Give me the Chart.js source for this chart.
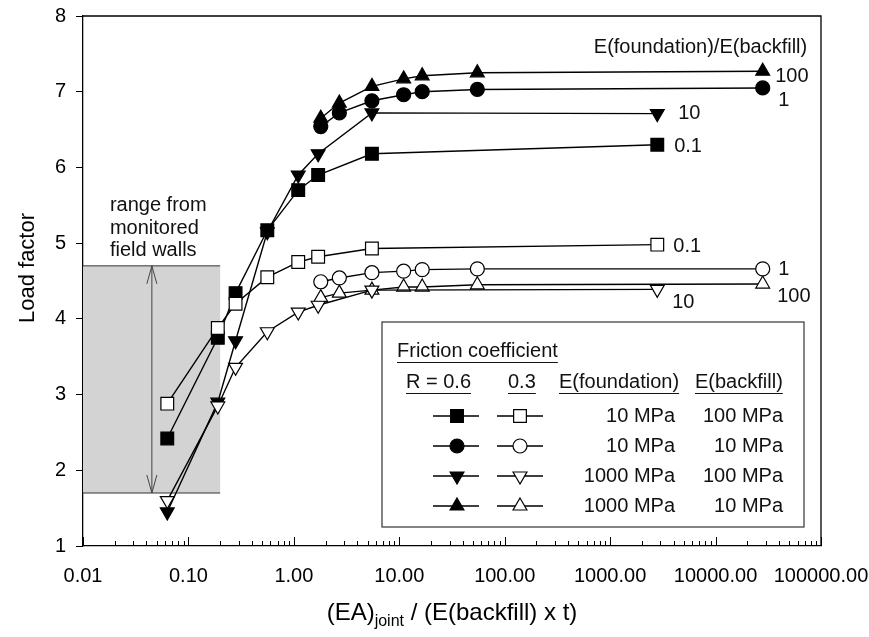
<!DOCTYPE html>
<html>
<head>
<meta charset="utf-8">
<script src="https://cdn.jsdelivr.net/npm/chart.js@4.4.1/dist/chart.umd.min.js"></script>
<style>
  html, body { margin: 0; padding: 0; background: #fff; }
  #wrap { width: 869px; height: 637px; }
</style>
</head>
<body>
<div id="wrap"><canvas id="chart" width="869" height="637"></canvas></div>
<script>
// Load factor vs joint stiffness

const FONT = '"Liberation Sans", Arial, sans-serif';

// x values of the two groups of runs
const xLow = [0.063, 0.19, 0.28, 0.56, 1.1, 1.7, 5.5, 2800];
const xHigh = [1.8, 2.7, 5.5, 11, 16.5, 55, 28000];

// E(foundation)/E(backfill) = 0.1 (squares)
const sqR06 = [2.42, 3.75, 4.34, 5.17, 5.70, 5.90, 6.18, 6.30];
const sqR03 = [2.88, 3.88, 4.20, 4.55, 4.75, 4.82, 4.93, 4.98];
// ratio = 1 (circles)
const circR06 = [6.54, 6.72, 6.88, 6.96, 7.00, 7.03, 7.05];
const circR03 = [4.49, 4.54, 4.61, 4.63, 4.65, 4.66, 4.66];
// ratio = 10 (down triangles)
const downR06 = [1.45, 2.90, 3.71, 5.15, 5.90, 6.18, 6.72, 6.71];
const downR03 = [1.60, 2.85, 3.36, 3.83, 4.09, 4.18, 4.38, 4.39];
// ratio = 100 (up triangles)
const upR06 = [6.65, 6.85, 7.07, 7.17, 7.21, 7.25, 7.27];
const upR03 = [4.28, 4.34, 4.38, 4.42, 4.42, 4.45, 4.46];

const xTickValues = [0.01, 0.1, 1, 10, 100, 1000, 10000, 100000];

// shaded band: range from monitored field walls
const bandX = [0.01, 0.2];
const bandY = [1.7, 4.7];
const arrowX = 0.045;

// ratio labels at the line ends
const endLabelText = ['100', '1', '10', '0.1', '0.1', '1', '10', '100'];
const endLabelX = [36800, 39300, 4420, 4050, 3970, 39300, 3880, 38400];
const endLabelY = [7.20, 6.88, 6.71, 6.28, 4.96, 4.65, 4.21, 4.29];

const legendFoundation = ['10 MPa', '10 MPa', '1000 MPa', '1000 MPa'];
const legendBackfill = ['100 MPa', '10 MPa', '100 MPa', '10 MPa'];

function zip(xs, ys) {
    return ys.map((y, i) => ({ x: xs[i], y: y }));
}

const markers = [
    { style: 'rect', radius: 9, rotation: 0 },
    { style: 'circle', radius: 7, rotation: 0 },
    { style: 'triangle', radius: 8, rotation: 180 },
    { style: 'triangle', radius: 8, rotation: 0 }
];

function series(xs, ys, m, filled) {
    return {
        data: zip(xs, ys),
        borderColor: '#000',
        borderWidth: 1.4,
        backgroundColor: filled ? '#000' : '#fff',
        pointStyle: m.style,
        pointRadius: m.radius,
        pointRotation: m.rotation,
        pointBorderWidth: 1.2,
        pointBorderColor: '#000',
        pointBackgroundColor: filled ? '#000' : '#fff',
        tension: 0,
        fill: false
    };
}

// own marker drawing for the legend box, same geometry as Chart.js
function drawMarker(ctx, m, x, y, filled) {
    const r = m.radius;
    ctx.beginPath();
    if (m.style === 'rect') {
        const s = r * Math.SQRT1_2;
        ctx.rect(x - s, y - s, 2 * s, 2 * s);
    } else if (m.style === 'circle') {
        ctx.arc(x, y, r, 0, Math.PI * 2);
    } else {
        let a = m.rotation * Math.PI / 180;
        ctx.moveTo(x + Math.sin(a) * r, y - Math.cos(a) * r);
        a += Math.PI * 2 / 3;
        ctx.lineTo(x + Math.sin(a) * r, y - Math.cos(a) * r);
        a += Math.PI * 2 / 3;
        ctx.lineTo(x + Math.sin(a) * r, y - Math.cos(a) * r);
        ctx.closePath();
    }
    ctx.fillStyle = filled ? '#000' : '#fff';
    ctx.fill();
    ctx.strokeStyle = '#000';
    ctx.lineWidth = 1.2;
    ctx.stroke();
}

function underlined(ctx, text, x, y, align) {
    ctx.textAlign = align;
    ctx.fillText(text, x, y);
    const w = ctx.measureText(text).width;
    const x0 = align === 'left' ? x : x - w;
    ctx.beginPath();
    ctx.moveTo(x0, y + 11.5);
    ctx.lineTo(x0 + w, y + 11.5);
    ctx.stroke();
}

const extras = {
    id: 'extras',
    beforeDatasetsDraw(chart) {
        const ctx = chart.ctx;
        const xs = chart.scales.x, ys = chart.scales.y;
        const x0 = xs.getPixelForValue(bandX[0]), x1 = xs.getPixelForValue(bandX[1]);
        const yT = ys.getPixelForValue(bandY[1]), yB = ys.getPixelForValue(bandY[0]);
        ctx.save();
        ctx.fillStyle = '#d3d3d3';
        ctx.fillRect(x0, yT, x1 - x0, yB - yT);
        ctx.strokeStyle = '#333';
        ctx.lineWidth = 1;
        ctx.beginPath();
        ctx.moveTo(x0, yT); ctx.lineTo(x1, yT);
        ctx.moveTo(x0, yB); ctx.lineTo(x1, yB);
        ctx.stroke();
        // double headed arrow
        const ax = xs.getPixelForValue(arrowX);
        ctx.strokeStyle = '#444';
        ctx.beginPath();
        ctx.moveTo(ax, yT); ctx.lineTo(ax, yB);
        ctx.moveTo(ax - 5, yT + 18); ctx.lineTo(ax, yT); ctx.lineTo(ax + 5, yT + 18);
        ctx.moveTo(ax - 5, yB - 18); ctx.lineTo(ax, yB); ctx.lineTo(ax + 5, yB - 18);
        ctx.stroke();
        ctx.restore();
    },
    afterDraw(chart) {
        const ctx = chart.ctx;
        const a = chart.chartArea;
        const xs = chart.scales.x, ys = chart.scales.y;
        ctx.save();
        // frame top and right
        ctx.strokeStyle = '#000';
        ctx.lineWidth = 1.3;
        ctx.beginPath();
        ctx.moveTo(a.left, a.top); ctx.lineTo(a.right, a.top); ctx.lineTo(a.right, a.bottom);
        ctx.stroke();

        // inward x ticks, major and minor
        ctx.lineWidth = 1;
        ctx.beginPath();
        for (let d = 0; d < xTickValues.length; d++) {
            const dec = xTickValues[d];
            for (let k = 1; k <= 9; k++) {
                if (d === xTickValues.length - 1 && k > 1) break;
                const px = Math.round(xs.getPixelForValue(dec * k)) + 0.5;
                const len = k === 1 ? 9 : 5;
                ctx.moveTo(px, a.bottom);
                ctx.lineTo(px, a.bottom - len);
            }
        }
        ctx.stroke();

        // texts in plot
        ctx.fillStyle = '#111';
        ctx.font = '20px ' + FONT;
        ctx.textBaseline = 'middle';
        ctx.textAlign = 'left';
        const rx = xs.getPixelForValue(0.018);
        ['range from', 'monitored', 'field walls'].forEach((t, i) => {
            ctx.fillText(t, rx, ys.getPixelForValue(5.5 - i * 0.3));
        });
        ctx.textAlign = 'right';
        ctx.fillText('E(foundation)/E(backfill)', xs.getPixelForValue(74000), ys.getPixelForValue(7.59));
        ctx.textAlign = 'left';
        endLabelText.forEach((t, i) => {
            ctx.fillText(t, xs.getPixelForValue(endLabelX[i]), ys.getPixelForValue(endLabelY[i]));
        });

        // legend box
        const bx = 382, by = 322, bw = 422, bh = 205;
        ctx.fillStyle = '#fff';
        ctx.fillRect(bx, by, bw, bh);
        ctx.strokeStyle = '#333';
        ctx.lineWidth = 1.2;
        ctx.strokeRect(bx, by, bw, bh);
        ctx.fillStyle = '#111';
        ctx.strokeStyle = '#111';
        ctx.lineWidth = 1;
        underlined(ctx, 'Friction coefficient', 397, 351, 'left');
        underlined(ctx, 'R = 0.6', 406, 382, 'left');
        underlined(ctx, '0.3', 508, 382, 'left');
        underlined(ctx, 'E(foundation)', 559, 382, 'left');
        underlined(ctx, 'E(backfill)', 695, 382, 'left');
        for (let i = 0; i < 4; i++) {
            const ry = 416 + i * 30;
            ctx.strokeStyle = '#000';
            ctx.lineWidth = 1.3;
            ctx.beginPath();
            ctx.moveTo(433, ry); ctx.lineTo(479, ry);
            ctx.moveTo(497, ry); ctx.lineTo(543, ry);
            ctx.stroke();
            drawMarker(ctx, markers[i], 457, ry, true);
            drawMarker(ctx, markers[i], 520, ry, false);
            ctx.fillStyle = '#111';
            ctx.textAlign = 'right';
            ctx.fillText(legendFoundation[i], 675, ry);
            ctx.fillText(legendBackfill[i], 783, ry);
        }

        // axis titles
        ctx.fillStyle = '#000';
        ctx.save();
        ctx.translate(28, 268);
        ctx.rotate(-Math.PI / 2);
        ctx.textAlign = 'center';
        ctx.font = '22px ' + FONT;
        ctx.fillText('Load factor', 0, 0);
        ctx.restore();

        const main1 = '(EA)', sub = 'joint', main2 = ' / (E(backfill) x t)';
        ctx.textBaseline = 'alphabetic';
        ctx.textAlign = 'left';
        ctx.font = '24px ' + FONT;
        const w1 = ctx.measureText(main1).width, w3 = ctx.measureText(main2).width;
        ctx.font = '16px ' + FONT;
        const w2 = ctx.measureText(sub).width;
        let tx = (a.left + a.right) / 2 - (w1 + w2 + w3) / 2;
        const ty = 620;
        ctx.font = '24px ' + FONT;
        ctx.fillText(main1, tx, ty);
        ctx.font = '16px ' + FONT;
        ctx.fillText(sub, tx + w1, ty + 6);
        ctx.font = '24px ' + FONT;
        ctx.fillText(main2, tx + w1 + w2, ty);
        ctx.restore();
    }
};

const ctx = document.getElementById('chart').getContext('2d');
const chart = new Chart(ctx, {
    type: 'line',
    data: {
        datasets: [
            series(xLow, sqR03, markers[0], false),
            series(xHigh, circR03, markers[1], false),
            series(xLow, downR03, markers[2], false),
            series(xHigh, upR03, markers[3], false),
            series(xLow, sqR06, markers[0], true),
            series(xHigh, circR06, markers[1], true),
            series(xLow, downR06, markers[2], true),
            series(xHigh, upR06, markers[3], true)
        ]
    },
    options: {
        responsive: false,
        animation: false,
        devicePixelRatio: 1,
        layout: { padding: { left: 0, right: 48, top: 16, bottom: 0 } },
        plugins: {
            legend: { display: false },
            tooltip: { enabled: false }
        },
        scales: {
            x: {
                type: 'logarithmic',
                min: 0.01,
                max: 100000,
                afterBuildTicks: s => { s.ticks = xTickValues.map(v => ({ value: v })); },
                afterFit: s => { s.height = 91; s.paddingLeft = 0; s.paddingRight = 0; },
                ticks: {
                    callback: v => Number(v).toFixed(2),
                    font: { family: FONT, size: 20 },
                    color: '#000',
                    padding: 18,
                    autoSkip: false,
                    maxRotation: 0
                },
                grid: { drawOnChartArea: false, drawTicks: false },
                border: { color: '#000', width: 1.3 }
            },
            y: {
                type: 'linear',
                min: 1,
                max: 8,
                afterFit: s => { s.width = 83; s.paddingTop = 0; s.paddingBottom = 0; },
                ticks: {
                    stepSize: 1,
                    font: { family: FONT, size: 20 },
                    color: '#000',
                    padding: 10
                },
                grid: { drawOnChartArea: false, drawTicks: true, tickLength: 7, color: '#000' },
                border: { color: '#000', width: 1.3 }
            }
        }
    },
    plugins: [extras]
});
</script>
</body>
</html>
